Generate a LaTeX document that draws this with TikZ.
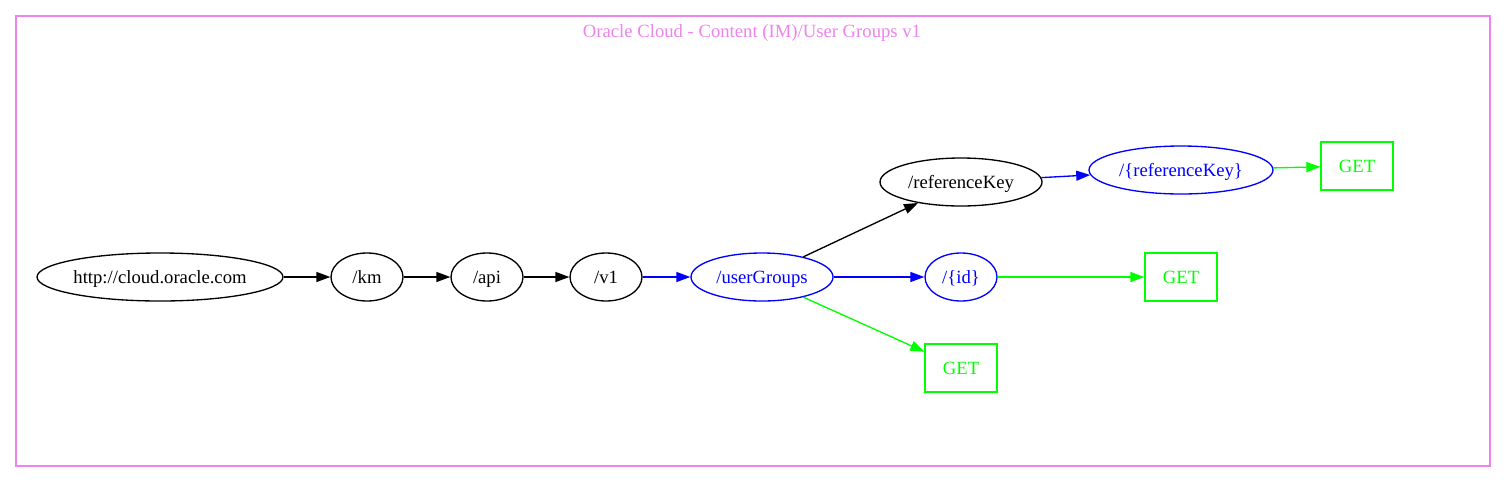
\documentclass[tikz,border=0pt]{standalone}
\usepackage{fontspec}
\setmainfont{Liberation Serif}
\usetikzlibrary{shapes.geometric,arrows.meta}
\definecolor{gvviolet}{HTML}{EE82EE}
\definecolor{gvblue}{HTML}{0000FF}
\definecolor{gvgreen}{HTML}{00FF00}
\tikzset{
  base/.style={line width=1.33pt, inner sep=0pt, minimum height=48pt, text height=13pt, text depth=0pt, font=\fontsize{18.67}{22}\selectfont},
  ell/.style={base, draw, ellipse},
  bell/.style={ell, gvblue, text=gvblue},
  getbox/.style={base, draw=gvgreen, text=gvgreen, rectangle, minimum width=72pt},
  edge/.style={line width=1.33pt, -{Triangle[length=14pt,width=10pt]}},
}
\begin{document}
\begin{tikzpicture}[x=1pt,y=-1pt]
\useasboundingbox (0,0) rectangle (1505,483);
\node[draw=gvviolet, line width=1.33pt, inner sep=0pt, minimum width=1474pt, minimum height=450pt] (frame) at (753,241) {};
\node[text=gvviolet, anchor=base, font=\fontsize{18.67}{22}\selectfont] (title) at (752,37) {Oracle Cloud - Content (IM)/User Groups v1};

\node[ell, minimum width=246pt] (root) at (160,277) {http://cloud.oracle.com};
\node[ell, minimum width=72pt] (km) at (367,277) {/km};
\node[ell, minimum width=72pt] (api) at (487,277) {/api};
\node[ell, minimum width=72pt] (v1) at (606,277) {/v1};
\node[bell, minimum width=142pt] (ug) at (762,277) {/userGroups};
\node[ell, minimum width=162pt] (rk) at (961,182) {/referenceKey};
\node[bell, minimum width=184pt] (rkv) at (1181,170) {/\{referenceKey\}};
\node[bell, minimum width=72pt] (id) at (961,277) {/\{id\}};
\node[getbox] (get1) at (1357,166) {GET};
\node[getbox] (get2) at (1181,277) {GET};
\node[getbox] (get3) at (961,368) {GET};

\draw[edge] (root) -- (km);
\draw[edge] (km) -- (api);
\draw[edge] (api) -- (v1);
\draw[edge, gvblue] (v1) -- (ug);
\draw[edge] (ug.26) -- (rk.206);
\draw[edge, gvblue] (ug) -- (id);
\draw[edge, gvgreen] (ug.-26) -- (get3.156);
\draw[edge, gvblue] (rk) -- (rkv);
\draw[edge, gvgreen] (rkv) -- (get1);
\draw[edge, gvgreen] (id) -- (get2);
\end{tikzpicture}
\end{document}
